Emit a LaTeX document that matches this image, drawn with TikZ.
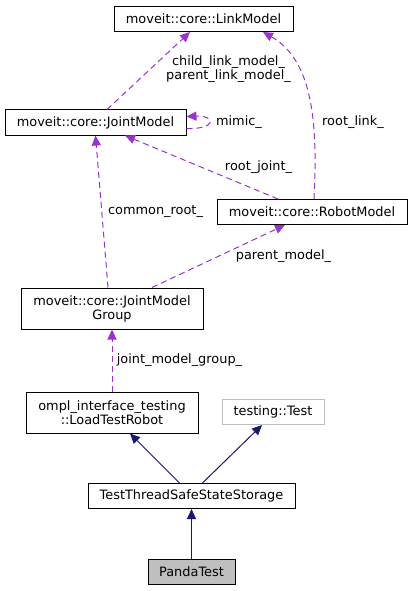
\documentclass[tikz,border=0pt]{standalone}
\usepackage{fontspec}
\setmainfont{DejaVu Sans}
\usetikzlibrary{arrows.meta}
\definecolor{member}{HTML}{9A32CD}
\definecolor{inherit}{HTML}{191970}
\definecolor{grey75}{HTML}{BFBFBF}
\begin{document}
\begin{tikzpicture}[x=1pt,y=-1pt,
	font=\fontsize{12.9}{14}\selectfont,
	cls/.style={draw=black,line width=1pt,inner sep=0pt,align=center,minimum height=25pt},
	usage/.style={draw=member,line width=1pt,dash pattern=on 6pt off 4pt,-{Triangle[length=10pt,width=9pt]}},
	derive/.style={draw=inherit,line width=1pt,-{Triangle[length=10pt,width=9pt,fill=inherit]}},
	lbl/.style={inner sep=0pt,align=center}]
	\useasboundingbox (0,0) rectangle (413,591);

	\node[cls,minimum width=179pt] (link) at (203.5,19) {moveit::core::LinkModel};
	\node[cls,minimum width=181pt] (joint) at (95.5,122.5) {moveit::core::JointModel};
	\node[cls,minimum width=190pt] (robot) at (312,212) {moveit::core::RobotModel};
	\node[cls,minimum width=182pt,minimum height=41pt] (group) at (112,308.5) {moveit::core::JointModel\\Group};
	\node[cls,minimum width=172pt,minimum height=41pt] (loader) at (112,412.5) {ompl\_interface\_testing\\::LoadTestRobot};
	\node[cls,draw=grey75,minimum width=102pt] (gtest) at (273,412) {testing::Test};
	\node[cls,minimum width=207pt] (storage) at (191.5,496) {TestThreadSafeStateStorage};
	\node[cls,fill=grey75,minimum width=87pt] (panda) at (191.5,572) {PandaTest};

	\draw[usage] ([xshift=11.5pt]joint.north) -- ([xshift=-13.5pt]link.south);
	\node[lbl] (lchild) at (228.5,69) {child\_link\_model\_\\parent\_link\_model\_};
	\draw[usage] ([yshift=-6pt]joint.east) .. controls +(30,1) and +(30,-1) .. ([yshift=6pt]joint.east);
	\node[lbl] (lmimic) at (239,122) {mimic\_};
	\draw[usage] ([xshift=2pt]robot.north) .. controls (318,120) and (312,60) .. ([xshift=59.5pt]link.south);
	\node[lbl] (lrootlink) at (353,122) {root\_link\_};
	\draw[usage] ([xshift=-34pt]robot.north) -- ([xshift=29.5pt]joint.south);
	\node[lbl] (lrootjoint) at (258.5,167) {root\_joint\_};
	\draw[usage] ([xshift=-4pt]group.north) -- (joint.south);
	\node[lbl] (lcommon) at (155.5,211) {common\_root\_};
	\draw[usage] ([xshift=40pt]group.north) -- ([xshift=-27pt]robot.south);
	\node[lbl] (lparent) at (283.5,256) {parent\_model\_};
	\draw[usage] (loader.north) -- (group.south);
	\node[lbl] (lgroup) at (179.5,360) {joint\_model\_group\_};

	\draw[derive] ([xshift=-12pt]storage.north) -- ([xshift=18pt]loader.south);
	\draw[derive] ([xshift=11pt]storage.north) -- ([xshift=-11pt]gtest.south);
	\draw[derive] (panda.north) -- (storage.south);

\end{tikzpicture}
\end{document}
